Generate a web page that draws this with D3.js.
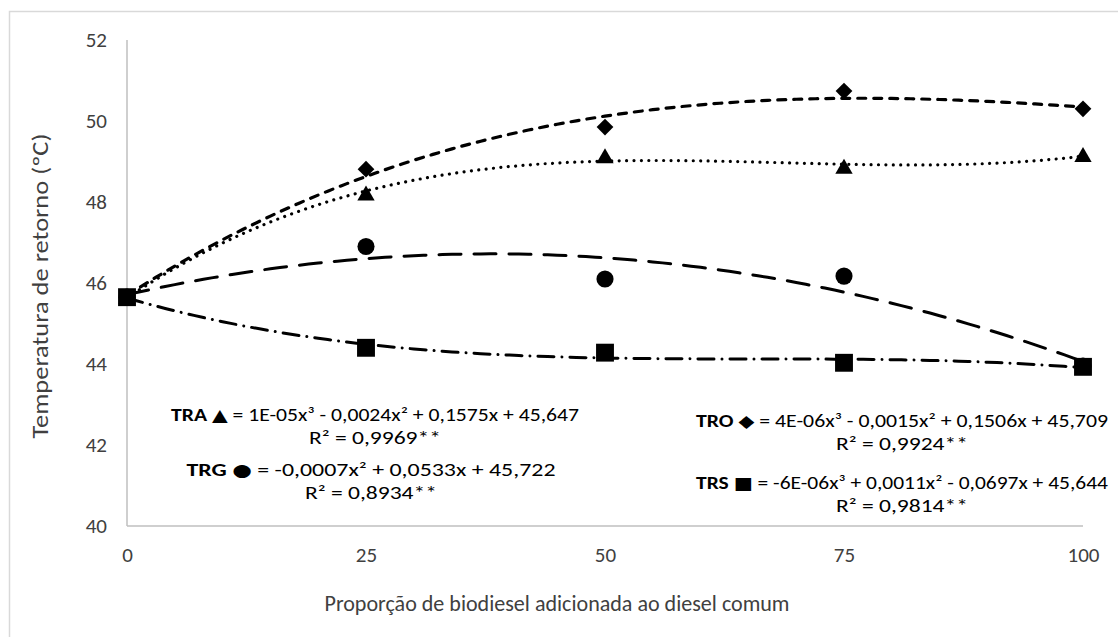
<!DOCTYPE html>
<html>
<head>
<meta charset="utf-8">
<script src="https://cdn.jsdelivr.net/npm/d3@7"></script>
<style>
  body { margin: 0; background: #fff; }
  text { font-family: Carlito, "Liberation Sans", "DejaVu Sans", sans-serif; }
</style>
</head>
<body>
<script>
// proportion of biodiesel (x) and return temperature per treatment
var proportions = [0, 25, 50, 75, 100];
var traValues = [45.65, 48.20, 49.12, 48.86, 49.15];
var troValues = [45.65, 48.81, 49.85, 50.74, 50.30];
var trgValues = [45.65, 46.90, 46.10, 46.17, 43.95];
var trsValues = [45.65, 44.40, 44.28, 44.03, 43.93];
var yTicks = [40, 42, 44, 46, 48, 50, 52];

var seriesNames = ["TRA", "TRO", "TRG", "TRS"];
var trendDegree = [3, 3, 2, 3];
var markerGlyphs = ["\u25B2", "\u25C6", "\u25CF", "\u25A0"];
var eqLabels = [
  " = 1E-05x\u00B3 - 0,0024x\u00B2 + 0,1575x + 45,647",
  " = 4E-06x\u00B3 - 0,0015x\u00B2 + 0,1506x + 45,709",
  " = -0,0007x\u00B2 + 0,0533x + 45,722",
  " = -6E-06x\u00B3 + 0,0011x\u00B2 - 0,0697x + 45,644"
];
var r2Labels = ["R\u00B2 = 0,9969**", "R\u00B2 = 0,9924**", "R\u00B2 = 0,8934**", "R\u00B2 = 0,9814**"];

var W = 1118, H = 637;
var svg = d3.select("body").append("svg")
    .attr("width", W)
    .attr("height", H);

// outer chart frame
svg.append("rect")
    .attr("x", 9.5).attr("y", 11.5)
    .attr("width", 1130).attr("height", 650)
    .attr("fill", "none")
    .attr("stroke", "#d9d9d9")
    .attr("stroke-width", 1.5);

var x = d3.scaleLinear().domain([0, 100]).range([127, 1083]);
var y = d3.scaleLinear().domain([40, 52]).range([526, 40]);

var xAxis = svg.append("g")
    .attr("transform", "translate(0," + y(40) + ")")
    .call(d3.axisBottom(x).tickValues(proportions).tickSize(0).tickPadding(21));
var yAxis = svg.append("g")
    .attr("transform", "translate(" + x(0) + ",0)")
    .call(d3.axisLeft(y).tickValues(yTicks).tickSize(0).tickPadding(20));

[xAxis, yAxis].forEach(function(a) {
  a.select(".domain").attr("stroke", "#bfbfbf").attr("stroke-width", 1.5);
  a.selectAll("text").attr("font-size", 21).attr("fill", "#404040")
      .attr("font-family", "Carlito, 'Liberation Sans', sans-serif");
});
yAxis.select(".domain").attr("d", "M0," + y(52) + "V" + y(40));
xAxis.select(".domain").attr("d", "M" + x(0) + ",0H" + x(100));

// axis titles
svg.append("text")
    .attr("x", 557).attr("y", 611)
    .attr("text-anchor", "middle")
    .attr("font-size", 22)
    .attr("fill", "#404040")
    .attr("textLength", 465)
    .attr("lengthAdjust", "spacingAndGlyphs")
    .text("Proporção de biodiesel adicionada ao diesel comum");

svg.append("text")
    .attr("transform", "translate(48,286) rotate(-90)")
    .attr("text-anchor", "middle")
    .attr("font-size", 22)
    .attr("fill", "#404040")
    .attr("textLength", 305)
    .attr("lengthAdjust", "spacingAndGlyphs")
    .text("Temperatura de retorno (ºC)");

// least squares polynomial, same as a spreadsheet trendline
function polyfit(xs, ys, deg) {
  var n = deg + 1, A = [], b = [];
  for (var i = 0; i < n; i++) {
    A.push([]);
    for (var j = 0; j < n; j++) A[i].push(d3.sum(xs, function(v) { return Math.pow(v, i + j); }));
    b.push(d3.sum(xs, function(v, k) { return ys[k] * Math.pow(v, i); }));
  }
  for (var c = 0; c < n; c++) {
    for (var r = c + 1; r < n; r++) {
      var f = A[r][c] / A[c][c];
      for (var k = c; k < n; k++) A[r][k] -= f * A[c][k];
      b[r] -= f * b[c];
    }
  }
  var coef = new Array(n).fill(0);
  for (var r2 = n - 1; r2 >= 0; r2--) {
    var s = b[r2];
    for (var k2 = r2 + 1; k2 < n; k2++) s -= A[r2][k2] * coef[k2];
    coef[r2] = s / A[r2][r2];
  }
  return function(v) { return d3.sum(coef, function(cf, p) { return cf * Math.pow(v, p); }); };
}

var allValues = [traValues, troValues, trgValues, trsValues];
var dashes = ["0.01,7.4", "8,8", "22,13", "16,8,0.01,8"];
var widths = [3.2, 3.2, 3, 3];

var line = d3.line()
    .x(function(d) { return x(d[0]); })
    .y(function(d) { return y(d[1]); });

var trends = svg.append("g");
allValues.forEach(function(vals, i) {
  var fit = polyfit(proportions, vals, trendDegree[i]);
  var pts = d3.range(0, 100.5, 1).map(function(v) { return [v, fit(v)]; });
  trends.append("path")
      .attr("d", line(pts))
      .attr("fill", "none")
      .attr("stroke", "#000")
      .attr("stroke-width", widths[i])
      .attr("stroke-linecap", "round")
      .attr("stroke-dasharray", dashes[i]);
});

var symbols = [
  d3.symbol().type(d3.symbolTriangle).size(130),
  d3.symbol().type(d3.symbolSquare).size(140),
  d3.symbol().type(d3.symbolCircle).size(230),
  d3.symbol().type(d3.symbolSquare).size(320)
];
var rotations = [0, 45, 0, 0];
var yNudge = [1.5, 0, 0, 0];

allValues.forEach(function(vals, i) {
  svg.append("g").selectAll("path")
      .data(proportions)
      .join("path")
      .attr("d", symbols[i]())
      .attr("fill", "#000")
      .attr("transform", function(d, k) {
        return "translate(" + x(d) + "," + (y(vals[k]) + yNudge[i]) + ") rotate(" + rotations[i] + ")";
      });
});

// trendline equation labels
var labelPos = [
  { cx: 375, y1: 421, y2: 444, w: 408 },
  { cx: 902, y1: 427, y2: 450, w: 412 },
  { cx: 371, y1: 476, y2: 499, w: 369 },
  { cx: 902, y1: 489, y2: 512, w: 412 }
];
labelPos.forEach(function(p, i) {
  var t = svg.append("text")
      .attr("x", p.cx).attr("y", p.y1)
      .attr("text-anchor", "middle")
      .attr("font-size", 18)
      .attr("fill", "#000")
      .attr("textLength", p.w)
      .attr("lengthAdjust", "spacingAndGlyphs");
  t.append("tspan").attr("font-weight", "bold").text(seriesNames[i] + " ");
  t.append("tspan").attr("font-family", "'DejaVu Sans', sans-serif").attr("font-size", 17).text(markerGlyphs[i]);
  t.append("tspan").text(eqLabels[i]);
  svg.append("text")
      .attr("x", p.cx).attr("y", p.y2)
      .attr("text-anchor", "middle")
      .attr("font-size", 18)
      .attr("fill", "#000")
      .attr("textLength", 132)
      .attr("lengthAdjust", "spacingAndGlyphs")
      .text(r2Labels[i]);
});
</script>
</body>
</html>
